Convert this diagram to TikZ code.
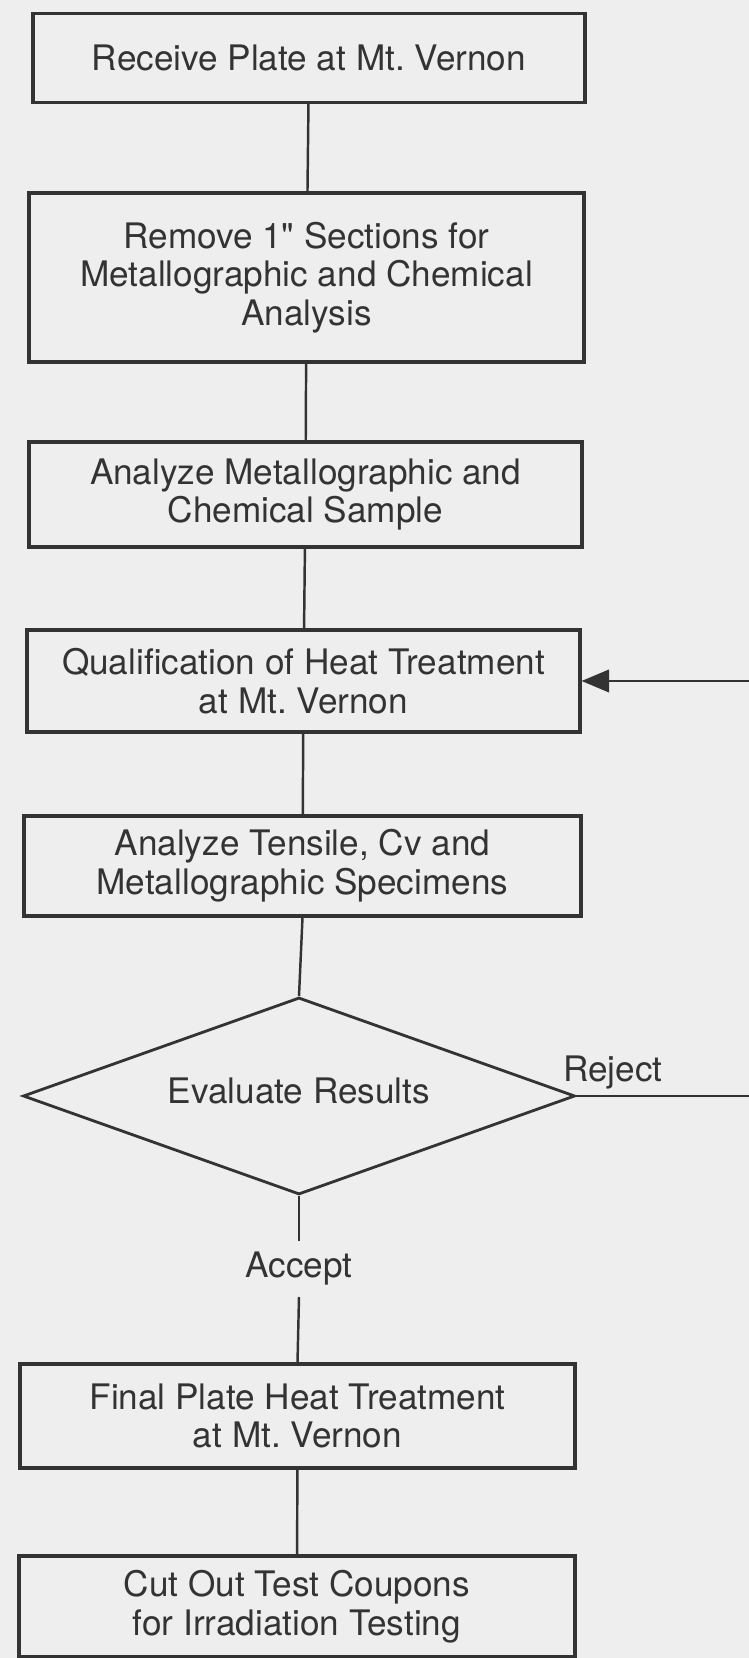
\documentclass[tikz,border=0pt]{standalone}
\usepackage{fontspec}
\setmainfont{TeX Gyre Heros}[Ligatures=TeXOff]
\usetikzlibrary{shapes.geometric,arrows.meta}
\definecolor{paper}{HTML}{EEEEEE}
\definecolor{ink}{HTML}{333333}
\frenchspacing
\tikzset{
  stepbox/.style={draw=ink, line width=1.8pt, text=ink, align=center, inner sep=0pt,
    font=\fontsize{20}{22}\selectfont},
  link/.style={draw=ink, line width=1.4pt},
  wordlabel/.style={text=ink, inner xsep=0pt, inner ysep=0.22cm, font=\fontsize{20}{22}\selectfont}
}

\begin{document}
\begin{tikzpicture}

% Paper
    \fill[paper] (0,0) rectangle (14.98,33.16);
    \useasboundingbox (0,0) rectangle (14.98,33.16);

% Steps
    \node[stepbox, minimum width=11.04cm, minimum height=1.78cm] (receive) at (6.18,32.0)
        {Receive Plate at Mt. Vernon};
    \node[stepbox, minimum width=11.1cm, minimum height=3.38cm] (remove) at (6.13,27.61)
        {Remove 1" Sections for\\Metallographic and Chemical\\Analysis};
    \node[stepbox, minimum width=11.06cm, minimum height=2.1cm] (sample) at (6.11,23.27)
        {Analyze Metallographic and\\Chemical Sample};
    \node[stepbox, minimum width=11.06cm, minimum height=2.04cm] (qualify) at (6.07,19.54)
        {Qualification of Heat Treatment\\at Mt. Vernon};
    \node[stepbox, minimum width=11.14cm, minimum height=2.0cm] (tensile) at (6.05,15.84)
        {Analyze Tensile, Cv and\\Metallographic Specimens};

% Decision
    \node[diamond, aspect=2.8, draw=ink, line width=1.6pt, text=ink, inner sep=0pt,
        minimum width=11.04cm, minimum height=3.94cm, font=\fontsize{20}{22}\selectfont]
        (evaluate) at (5.98,11.24) {\raisebox{0.2cm}{Evaluate Results}};
    \node[wordlabel, anchor=base west] (reject) at (11.26,11.52) {Reject};
    \node[wordlabel, anchor=base] (accept) at (5.98,7.6) {Accept};

    \node[stepbox, minimum width=11.1cm, minimum height=2.08cm] (final) at (5.95,4.84)
        {Final Plate Heat Treatment\\at Mt. Vernon};
    \node[stepbox, minimum width=11.12cm, minimum height=2.02cm] (coupons) at (5.94,1.03)
        {Cut Out Test Coupons\\for Irradiation Testing};

% Connectors
    \draw[link] (receive) -- (remove);
    \draw[link] (remove) -- (sample);
    \draw[link] (sample) -- (qualify);
    \draw[link] (qualify) -- (tensile);
    \draw[link] (tensile.south) -- (evaluate.north);
    \draw[link] (evaluate.south) -- (accept.north);
    \draw[link] (accept.south) -- (final.north);
    \draw[link] (final) -- (coupons);

    % Reject loop
    \coordinate (rejectend) at (15.1,11.24);
    \coordinate (loopstart) at (15.1,19.54);
    \draw[link] (evaluate.east) -- (rejectend);
    \draw[link, -{Triangle[length=0.55cm, width=0.45cm]}] (loopstart) -- (qualify.east);

\end{tikzpicture}
\end{document}
